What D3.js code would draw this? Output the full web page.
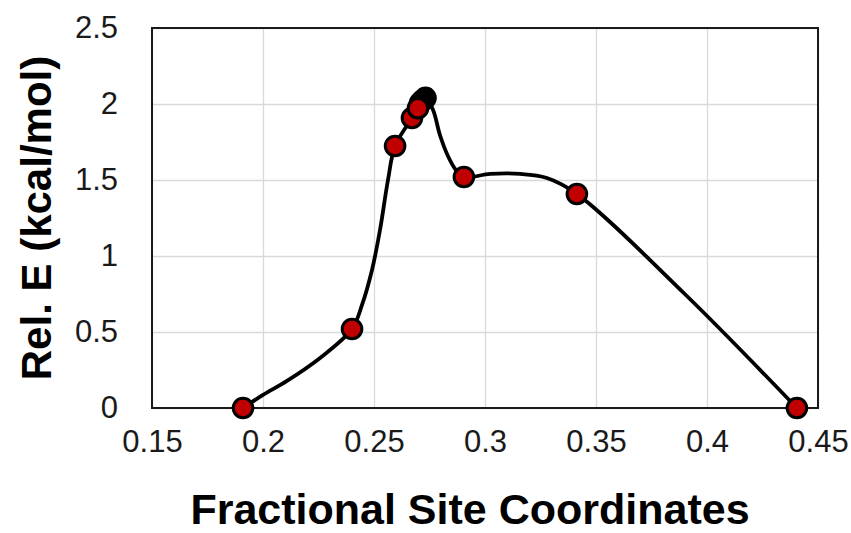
<!DOCTYPE html>
<html>
<head>
<meta charset="utf-8">
<script src="https://cdn.jsdelivr.net/npm/d3@7"></script>
<style>
  html, body { margin: 0; padding: 0; background: #fff; }
  svg { display: block; font-family: "Liberation Sans", Arial, sans-serif; }
</style>
</head>
<body>
<svg id="chart" width="851" height="533"></svg>
<script>
// Computed minima (red markers)
const siteX = [0.191, 0.2401, 0.2595, 0.2671, 0.2698, 0.2905, 0.3414, 0.4405];
const siteE = [0.0, 0.52, 1.724, 1.908, 1.972, 1.52, 1.408, 0.0];

// Points clustered at the barrier top (black markers)
const peakX = [0.2707, 0.2716, 0.2724, 0.2732];
const peakE = [2.005, 2.02, 2.03, 2.04];

// Energy profile along the path
const pathX = [0.191, 0.2, 0.2108, 0.2257, 0.2401, 0.2446, 0.2491, 0.2527, 0.2563, 0.2595,
               0.2671, 0.2698, 0.2732, 0.2766, 0.2797, 0.2833, 0.2869, 0.2905,
               0.3023, 0.3158, 0.3279, 0.3414, 0.39, 0.4405];
const pathE = [0.0, 0.086, 0.178, 0.329, 0.52, 0.678, 0.908, 1.171, 1.5, 1.724,
               1.908, 1.972, 2.04, 1.96, 1.796, 1.658, 1.566, 1.52,
               1.54, 1.54, 1.513, 1.408, 0.75, 0.0];

const xTicks = [0.15, 0.2, 0.25, 0.3, 0.35, 0.4, 0.45];
const yTicks = [0, 0.5, 1, 1.5, 2, 2.5];

const margin = { left: 152, right: 33, top: 28, bottom: 125 };
const W = 851, H = 533;
const svg = d3.select("#chart");

const x = d3.scaleLinear().domain([0.15, 0.45]).range([margin.left, W - margin.right]);
const y = d3.scaleLinear().domain([0, 2.5]).range([H - margin.bottom, margin.top]);

// Gridlines
svg.append("g")
  .attr("transform", `translate(0,${y(0)})`)
  .call(d3.axisBottom(x).tickValues(xTicks).tickSize(-(y(0) - y(2.5))).tickFormat(""))
  .call(g => g.select(".domain").remove())
  .call(g => g.selectAll("line").attr("stroke", "#d9d9d9").attr("stroke-width", 1.3));
svg.append("g")
  .attr("transform", `translate(${x(0.15)},0)`)
  .call(d3.axisLeft(y).tickValues(yTicks).tickSize(-(x(0.45) - x(0.15))).tickFormat(""))
  .call(g => g.select(".domain").remove())
  .call(g => g.selectAll("line").attr("stroke", "#d9d9d9").attr("stroke-width", 1.3));

// Plot frame
svg.append("rect")
  .attr("x", x(0.15)).attr("y", y(2.5))
  .attr("width", x(0.45) - x(0.15)).attr("height", y(0) - y(2.5))
  .attr("fill", "none").attr("stroke", "#1a1a1a").attr("stroke-width", 2);

// Tick labels
const xAxis = svg.append("g")
  .attr("transform", `translate(0,${y(0)})`)
  .call(d3.axisBottom(x).tickValues(xTicks).tickSize(0).tickPadding(22)
    .tickFormat(d => String(d)));
xAxis.select(".domain").remove();
xAxis.selectAll("text").attr("font-size", 31).attr("fill", "#1a1a1a")
  .attr("font-family", "'Liberation Sans', Arial, sans-serif");

const yAxis = svg.append("g")
  .attr("transform", `translate(${x(0.15)},0)`)
  .call(d3.axisLeft(y).tickValues(yTicks).tickSize(0).tickPadding(34)
    .tickFormat(d => String(d)));
yAxis.select(".domain").remove();
yAxis.selectAll("text").attr("font-size", 31).attr("fill", "#1a1a1a")
  .attr("font-family", "'Liberation Sans', Arial, sans-serif");

// Axis titles
svg.append("text")
  .attr("x", 470).attr("y", 524)
  .attr("text-anchor", "middle")
  .attr("font-size", 43).attr("font-weight", "bold").attr("fill", "#000")
  .text("Fractional Site Coordinates");
svg.append("text")
  .attr("transform", `translate(51,${(y(0) + y(2.5)) / 2}) rotate(-90)`)
  .attr("text-anchor", "middle")
  .attr("font-size", 42).attr("font-weight", "bold").attr("fill", "#000")
  .text("Rel. E (kcal/mol)");

// Smooth energy profile
const line = d3.line()
  .x((d, i) => x(pathX[i]))
  .y((d, i) => y(pathE[i]))
  .curve(d3.curveCatmullRom.alpha(0.5));
svg.append("path")
  .attr("d", line(pathX))
  .attr("fill", "none").attr("stroke", "#000").attr("stroke-width", 3.8)
  .attr("stroke-linejoin", "round");

// Barrier-top markers
svg.append("g").selectAll("circle")
  .data(peakX.map((v, i) => [v, peakE[i]]))
  .join("circle")
  .attr("cx", d => x(d[0])).attr("cy", d => y(d[1])).attr("r", 9.8)
  .attr("fill", "#000").attr("stroke", "#000").attr("stroke-width", 3);

// Minima markers
svg.append("g").selectAll("circle")
  .data(siteX.map((v, i) => [v, siteE[i]]))
  .join("circle")
  .attr("cx", d => x(d[0])).attr("cy", d => y(d[1])).attr("r", 9.8)
  .attr("fill", "#c00000").attr("stroke", "#000").attr("stroke-width", 3);
</script>
</body>
</html>
